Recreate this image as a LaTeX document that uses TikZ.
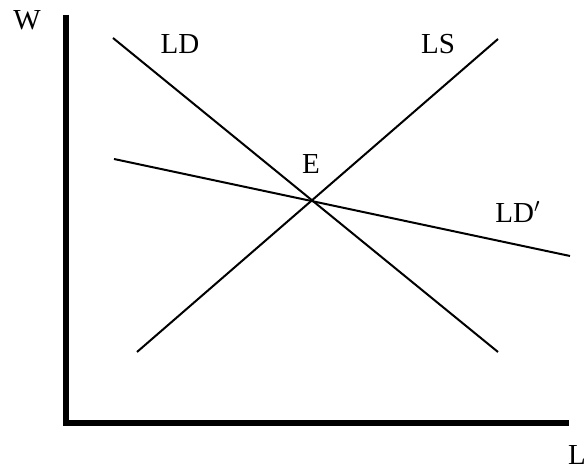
\documentclass[tikz,border=0pt]{standalone}
\usepackage{fontspec}
\setmainfont{Liberation Serif}
\usepackage{tikz}
\usetikzlibrary{positioning}

\begin{document}
\begin{tikzpicture}[
    x=0.5pt, y=-0.5pt,
    lbl/.style={inner sep=0pt, font=\fontsize{14.5}{17}\selectfont},
    axis/.style={line width=3pt},
    curve/.style={line width=1pt}
]
\useasboundingbox (0,0) rectangle (585,469);

% Axes
\coordinate (top) at (66,15);
\coordinate (origin) at (66,423);
\coordinate (right) at (569,423);
\draw[axis] (top) -- (origin) -- (right);
\node[lbl] (w) at (27,20) {W};
\node[lbl] (l) at (577,455) {L};

% Curves
\coordinate (ld1) at (113,38);
\coordinate (ld2) at (498,352);
\coordinate (ls1) at (137,352);
\coordinate (ls2) at (498,39);
\coordinate (ldp1) at (114,159);
\coordinate (ldp2) at (570,256);
\draw[curve] (ld1) -- (ld2);
\draw[curve] (ls1) -- (ls2);
\draw[curve] (ldp1) -- (ldp2);

% Labels
\node[lbl] (ld) at (180,44) {LD};
\node[lbl] (ls) at (438,44) {LS};
\node[lbl] (e) at (311,164) {E};
\node[lbl] (ldp) at (518,212) {LD$'$};

\end{tikzpicture}
\end{document}
